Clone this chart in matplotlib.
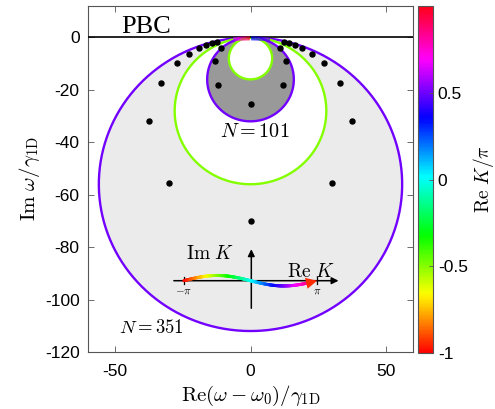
import numpy as np
import matplotlib
matplotlib.use("Agg")
import matplotlib.pyplot as plt
from matplotlib.collections import LineCollection
from matplotlib.colors import Normalize
from matplotlib.cm import ScalarMappable

plt.rcParams['mathtext.fontset'] = 'cm'
plt.rcParams['axes.unicode_minus'] = False
plt.rcParams['font.family'] = ['Liberation Sans', 'DejaVu Sans']

# ---- data ----
chain_sizes = [351, 101]
outer_radius = [56.0, 16.0]      # Re K = +pi/2 loci
inner_radius = [28.0, 8.0]       # Re K = -pi/2 loci
outer_reK = 0.5
inner_reK = -0.5
fill_colors = ['#ebebeb', '#999999']

# open-chain eigenvalues (right half; mirrored about Re = 0)
obc351_x = [0.0, 30.0, 37.3, 33.0, 27.2, 22.7, 19.0, 16.3, 14.3, 12.3]
obc351_y = [-70.0, -55.6, -31.8, -17.2, -9.8, -6.3, -4.1, -2.9, -2.2, -1.6]
obc101_x = [0.0, 12.0, 13.2, 11.0]
obc101_y = [-25.3, -18.1, -8.8, -3.9]

cbar_ticks = [-1, -0.5, 0, 0.5]
xticks = [-50, 0, 50]
yticks = [0, -20, -40, -60, -80, -100, -120]

cmap = plt.get_cmap('hsv')
norm = Normalize(-1, 1)

fig = plt.figure(figsize=(4.95, 4.09), dpi=100)
W, H = 495, 409
ax = fig.add_axes([88 / W, 1 - 352 / H, 325 / W, 346 / H])
cax = fig.add_axes([418 / W, 1 - 353 / H, 15 / W, 347 / H])

t = np.linspace(0, 2 * np.pi, 600)


def circle(r):
    return r * np.sin(t), -r + r * np.cos(t)


# filled regions between the loci
for ro, ri, fc in zip(outer_radius, inner_radius, fill_colors):
    x, y = circle(ro)
    ax.fill(x, y, color=fc, lw=0, zorder=1)
    x, y = circle(ri)
    ax.fill(x, y, color='white', lw=0, zorder=1)

for ro, ri in zip(outer_radius, inner_radius):
    x, y = circle(ro)
    ax.plot(x, y, color=cmap(norm(outer_reK)), lw=1.7, zorder=3)
    x, y = circle(ri)
    ax.plot(x, y, color=cmap(norm(inner_reK)), lw=1.7, zorder=3)

ax.axhline(0, color='black', lw=1.2, zorder=5)

# real-K branch near the origin
R = outer_radius[0]
for xs, vals in [(np.linspace(-6.4, -0.25, 50), np.linspace(0.58, 0.98, 50)),
                 (np.linspace(0.25, 7.2, 50), np.linspace(0.34, 0.5, 50))]:
    ys = -(R - np.sqrt(R ** 2 - xs ** 2)) - 0.35
    pts = np.column_stack([xs, ys]).reshape(-1, 1, 2)
    segs = np.concatenate([pts[:-1], pts[1:]], axis=1)
    lc = LineCollection(segs, colors=cmap(norm(vals[:-1])), linewidths=2.8,
                        capstyle='butt', zorder=6)
    ax.add_collection(lc)

# eigenvalue dots
for xs, ys in [(obc351_x, obc351_y), (obc101_x, obc101_y)]:
    xs = np.array(xs)
    ys = np.array(ys)
    ax.plot(np.concatenate([xs, -xs[1:]]), np.concatenate([ys, ys[1:]]),
            'o', color='black', ms=3.6, lw=0, zorder=6)

# inset sketch of the complex K plane
y0 = -92.8
sK = 24.6 / np.pi
ax.annotate('', xy=(32.5, y0), xytext=(-28.3, y0),
            arrowprops=dict(arrowstyle='-|>', color='black', lw=1.1,
                            mutation_scale=10, shrinkA=0, shrinkB=0), zorder=7)
ax.annotate('', xy=(0.3, -80.8), xytext=(0.3, -103.3),
            arrowprops=dict(arrowstyle='-|>', color='black', lw=1.1,
                            mutation_scale=10, shrinkA=0, shrinkB=0), zorder=7)
for k in (-np.pi, np.pi):
    ax.plot([k * sK, k * sK], [y0 - 1.4, y0 + 1.4], color='black', lw=0.9, zorder=7)
K = np.linspace(-np.pi, 0.84 * np.pi, 200)
kx = K * sK
ky = y0 - 2.0 * np.sin(K)
pts = np.column_stack([kx, ky]).reshape(-1, 1, 2)
segs = np.concatenate([pts[:-1], pts[1:]], axis=1)
ax.add_collection(LineCollection(segs, colors=cmap(norm(K[:-1] / np.pi)),
                                 linewidths=2.2, capstyle='round', zorder=8))
ax.annotate('', xy=(np.pi * sK, y0), xytext=(kx[-1], ky[-1]),
            arrowprops=dict(arrowstyle='-|>', color='#ff2a00', lw=0.01,
                            mutation_scale=20, shrinkA=0, shrinkB=0), zorder=9)
ax.text(-15.0, -82.8, r'$\mathrm{Im}\ K$', fontsize=14, ha='center', va='center', zorder=9)
ax.text(22.5, -89.3, r'$\mathrm{Re}\ K$', fontsize=14, ha='center', va='center', zorder=9)
ax.text(-np.pi * sK, -96.8, r'$-\pi$', fontsize=8, ha='center', va='center', zorder=9)
ax.text(np.pi * sK, -96.8, r'$\pi$', fontsize=8, ha='center', va='center', zorder=9)

# annotations
ax.text(-38.5, 4.0, 'PBC', family='Liberation Serif', fontsize=19,
        ha='center', va='center', zorder=9)
ax.text(1.4, -35.9, r'$N=101$', fontsize=14.5, ha='center', va='center', zorder=9)
ax.text(-36.4, -110.8, r'$N=351$', fontsize=13.5, ha='center', va='center', zorder=9)

ax.set_xlim(-60, 60)
ax.set_ylim(-120, 12)
ax.set_xticks(xticks)
ax.set_yticks(yticks)
ax.tick_params(direction='in', top=True, right=True, labelsize=12.5,
               length=4, width=0.6, color='#555555')
ax.tick_params(axis='x', pad=9)
ax.tick_params(axis='y', pad=6)
for sp in ax.spines.values():
    sp.set_color('#555555')
    sp.set_linewidth(0.8)
ax.set_xlabel(r'$\mathrm{Re}(\omega-\omega_0)/\gamma_{\mathrm{1D}}$', fontsize=15, labelpad=3)
ax.set_ylabel(r'$\mathrm{Im}\ \omega/\gamma_{\mathrm{1D}}$', fontsize=15, labelpad=2)

cb = fig.colorbar(ScalarMappable(norm=norm, cmap=cmap), cax=cax, ticks=cbar_ticks)
cb.ax.set_yticklabels(['-1', '-0.5', '0', '0.5'])
cb.ax.tick_params(direction='in', labelsize=12.5, length=3, width=0.6, color='#555555')
cb.outline.set_edgecolor('#555555')
cb.outline.set_linewidth(0.8)
cb.set_label(r'$\mathrm{Re}\ K/\pi$', fontsize=14, labelpad=2)

fig.savefig('out.png', dpi=100)
